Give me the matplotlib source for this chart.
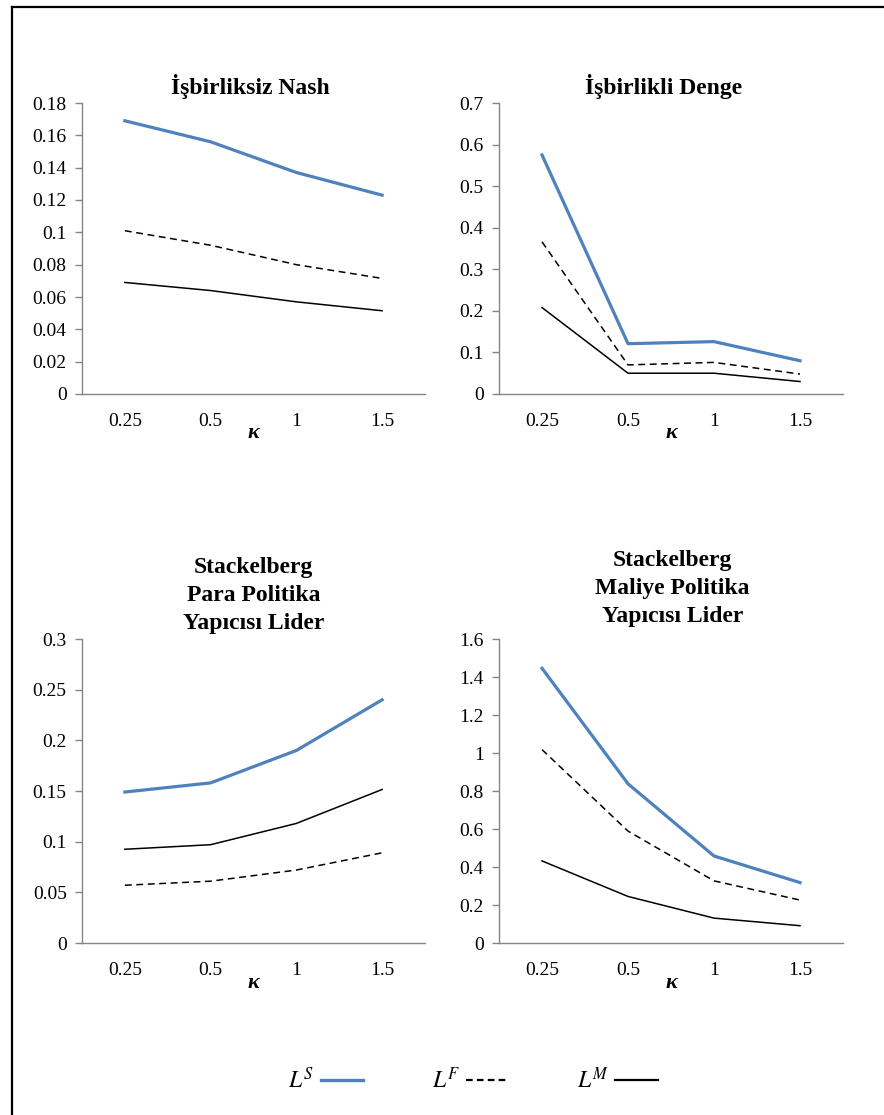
import numpy as np
import matplotlib
matplotlib.use('agg')
import matplotlib.pyplot as plt
from matplotlib.lines import Line2D
from matplotlib.ticker import FuncFormatter, MultipleLocator

plt.rcParams['font.family'] = ['Liberation Serif', 'DejaVu Serif']
plt.rcParams['mathtext.fontset'] = 'stix'

kappa = ['0.25', '0.5', '1', '1.5']

# Işbirliksiz Nash
nash_S = [0.169, 0.156, 0.137, 0.123]
nash_F = [0.101, 0.092, 0.080, 0.0715]
nash_M = [0.069, 0.064, 0.057, 0.0515]

# İşbirlikli Denge
coop_S = [0.575, 0.121, 0.126, 0.080]
coop_F = [0.366, 0.070, 0.076, 0.048]
coop_M = [0.208, 0.050, 0.050, 0.030]

# Stackelberg, para politika yapıcısı lider
spl_S = [0.149, 0.158, 0.190, 0.240]
spl_F = [0.057, 0.061, 0.072, 0.089]
spl_M = [0.0925, 0.097, 0.118, 0.1515]

# Stackelberg, maliye politika yapıcısı lider
sml_S = [1.446, 0.838, 0.458, 0.318]
sml_F = [1.018, 0.589, 0.327, 0.226]
sml_M = [0.432, 0.245, 0.131, 0.091]

titles = ['İşbirliksiz Nash', 'İşbirlikli Denge',
          'Stackelberg\nPara Politika\nYapıcısı Lider',
          'Stackelberg\nMaliye Politika\nYapıcısı Lider']
ymax = [0.18, 0.7, 0.3, 1.6]
ystep = [0.02, 0.1, 0.05, 0.2]
title_pad = [6.5, 6.5, 7.5, 12.5]
title_x = [0.49, 0.477, 0.5, 0.505]
panels = [(nash_S, nash_F, nash_M), (coop_S, coop_F, coop_M),
          (spl_S, spl_F, spl_M), (sml_S, sml_F, sml_M)]

W, H = 884, 1115
fig = plt.figure(figsize=(W / 100, H / 100), dpi=100)

# axes boxes in pixels: left, top, right, bottom
boxes = [(82, 103, 425, 394), (499, 103, 843, 394),
         (82, 639, 425, 943), (499, 639, 843, 943)]

blue = '#4F81BD'
grey = '#868686'
x = np.arange(len(kappa))

for i, (l, t, r, b) in enumerate(boxes):
    ax = fig.add_axes([l / W, 1 - b / H, (r - l) / W, (b - t) / H])
    S, F, M = panels[i]
    ax.plot(x, S, color=blue, lw=2.3, solid_joinstyle='round')
    ax.plot(x, F, color='black', lw=1.1, dashes=(4.5, 3))
    ax.plot(x, M, color='black', lw=1.1)
    ax.set_xlim(-0.5, 3.5)
    ax.set_ylim(0, ymax[i])
    ax.yaxis.set_major_locator(MultipleLocator(ystep[i]))
    ax.yaxis.set_major_formatter(FuncFormatter(lambda v, p: '%g' % round(v, 4)))
    ax.set_xticks(x)
    ax.set_xticklabels(kappa)
    for s in ['top', 'right']:
        ax.spines[s].set_visible(False)
    for s in ['left', 'bottom']:
        ax.spines[s].set_color(grey)
        ax.spines[s].set_linewidth(1.0)
    ax.tick_params(axis='y', direction='out', length=5, width=1.0, color=grey,
                   pad=6, labelsize=14)
    ax.tick_params(axis='x', length=0, pad=14, labelsize=14)
    ax.set_xlabel('κ', fontsize=16, style='italic', fontweight='bold', labelpad=-5)
    ax.set_title(titles[i], fontsize=17, fontweight='bold', pad=title_pad[i],
                 linespacing=1.42, x=title_x[i])

# legend with labels before the line keys
handles = [Line2D([], [], color=blue, lw=2.4),
           Line2D([], [], color='black', lw=1.6, dashes=(3, 1.9)),
           Line2D([], [], color='black', lw=1.6)]
labels = ['$L^S$', '$L^F$', '$L^M$']
fig.legend(handles, labels, loc='center', bbox_to_anchor=(473 / W, 1 - 1080 / H),
           ncol=3, frameon=False, markerfirst=False, fontsize=17,
           handlelength=1.8, handletextpad=0.25, columnspacing=2.9)

# page frame (left and top edges)
fig.add_artist(Line2D([12 / W, 12 / W], [0, 1 - 7 / H], color='black', lw=1.6,
                      transform=fig.transFigure))
fig.add_artist(Line2D([12 / W, 883 / W], [1 - 7 / H, 1 - 7 / H], color='black', lw=1.6,
                      transform=fig.transFigure))

fig.savefig('out.png', dpi=100)
